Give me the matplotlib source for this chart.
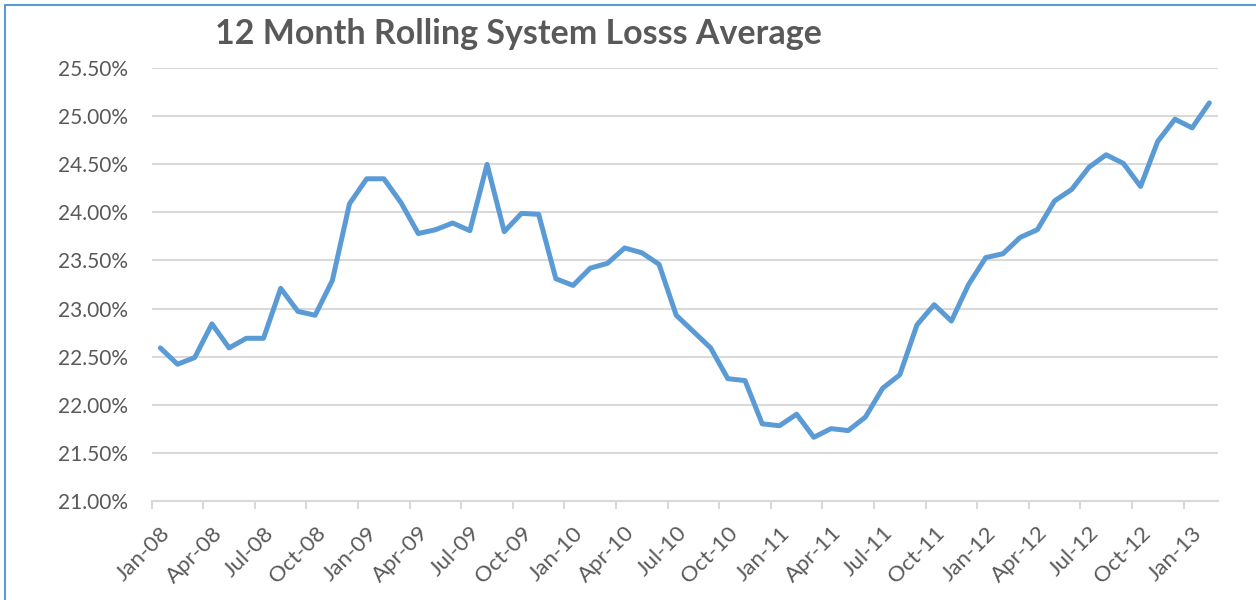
"""
Recreate the 12 month rolling system loss average chart.
"""
import matplotlib
matplotlib.use("Agg")
import matplotlib.pyplot as plt
from matplotlib.lines import Line2D
from matplotlib.ticker import FixedLocator, FuncFormatter

# ---------------------------------------------------------------------------
# Data (monthly, Jan-08 .. Feb-13), values in percent
# ---------------------------------------------------------------------------
loss_pct = [
    22.59, 22.42, 22.49, 22.84, 22.59, 22.69, 22.69, 23.21, 22.97, 22.93, 23.29, 24.09,  # 2008
    24.35, 24.35, 24.10, 23.78, 23.82, 23.89, 23.81, 24.50, 23.80, 23.99, 23.98, 23.31,  # 2009
    23.24, 23.42, 23.47, 23.63, 23.58, 23.46, 22.93, 22.76, 22.59, 22.27, 22.25, 21.80,  # 2010
    21.78, 21.90, 21.66, 21.75, 21.73, 21.87, 22.17, 22.31, 22.83, 23.04, 22.87, 23.25,  # 2011
    23.53, 23.57, 23.74, 23.82, 24.12, 24.24, 24.47, 24.60, 24.51, 24.27, 24.74, 24.97,  # 2012
    24.88, 25.14,                                                                        # 2013
]
tick_labels = [
    "Jan-08", "Apr-08", "Jul-08", "Oct-08",
    "Jan-09", "Apr-09", "Jul-09", "Oct-09",
    "Jan-10", "Apr-10", "Jul-10", "Oct-10",
    "Jan-11", "Apr-11", "Jul-11", "Oct-11",
    "Jan-12", "Apr-12", "Jul-12", "Oct-12",
    "Jan-13",
]
y_ticks = [21.0, 21.5, 22.0, 22.5, 23.0, 23.5, 24.0, 24.5, 25.0, 25.5]
title = "12 Month Rolling System Losss Average"

LINE_BLUE = "#5B9BD5"
GRID = "#D9D9D9"
TEXT = "#595959"

plt.rcParams["font.family"] = ["Lato", "DejaVu Sans"]

fig = plt.figure(figsize=(12.56, 6.0), dpi=100)
ax = fig.add_axes([0.1208, 0.1655, 0.9697 - 0.1208, 0.8862 - 0.1655])

x = list(range(len(loss_pct)))
ax.plot(x, loss_pct, color=LINE_BLUE, linewidth=3.6,
        solid_joinstyle="round", solid_capstyle="round", zorder=3)

ax.set_xlim(-0.5, len(loss_pct) - 0.5)
ax.set_ylim(y_ticks[0], y_ticks[-1])

# y axis: percent labels, horizontal gridlines
ax.set_yticks(y_ticks)
ax.yaxis.set_major_formatter(FuncFormatter(lambda v, _: f"{v:.2f}%"))
ax.tick_params(axis="y", length=0, pad=17, labelsize=15, labelcolor=TEXT)
ax.grid(axis="y", color=GRID, linewidth=1.5, zorder=0)

# x axis: labels on every 3rd category, tick marks between categories
label_pos = [3 * i for i in range(len(tick_labels))]
ax.xaxis.set_major_locator(FixedLocator(label_pos))
ax.set_xticklabels(tick_labels, rotation=45, ha="right", rotation_mode="anchor")
ax.tick_params(axis="x", which="major", length=0, pad=16, labelsize=16,
               labelcolor=TEXT)
ax.xaxis.set_minor_locator(FixedLocator([p - 0.5 for p in label_pos]))
ax.tick_params(axis="x", which="minor", length=6, width=1.5, color=GRID,
               direction="out")

for side in ("top", "right", "left"):
    ax.spines[side].set_visible(False)
ax.spines["bottom"].set_color(GRID)
ax.spines["bottom"].set_linewidth(1.5)

fig.text(518 / 1256, 1 - 34 / 600, title, ha="center", va="center",
         fontsize=24.5, fontweight="bold", color=TEXT)

# chart frame (only top and left edges are visible in the source)
fig.add_artist(Line2D([5 / 1256, 5 / 1256, 1.0], [0.0, 1 - 5 / 600, 1 - 5 / 600],
                      transform=fig.transFigure, color=LINE_BLUE, linewidth=1.5))

fig.savefig("out.png", dpi=100)
